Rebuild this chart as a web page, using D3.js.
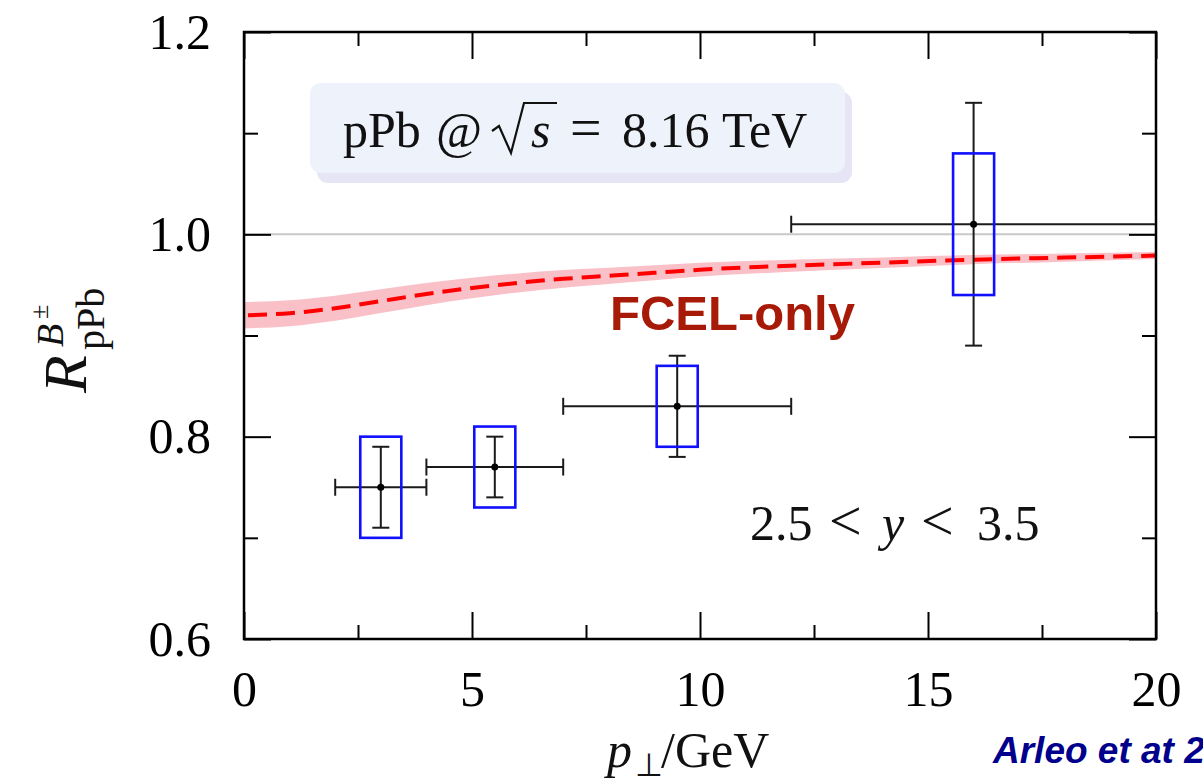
<!DOCTYPE html>
<html>
<head>
<meta charset="utf-8">
<script src="https://cdn.jsdelivr.net/npm/d3@7"></script>
<style>
  body { margin: 0; background: #fff; }
  svg { display: block; }
</style>
</head>
<body>
<svg id="chart" width="1203" height="783"></svg>
<script>
// LHCb B± nuclear modification factor, pPb at 8.16 TeV, 2.5 < y < 3.5
const ptBins   = [[2, 4], [4, 7], [7, 12], [12, 20]];
const ptCenter = [3, 5.5, 9.5, 16];
const rValue   = [0.75, 0.77, 0.83, 1.01];
const statLow  = [0.71, 0.74, 0.78, 0.89];
const statHigh = [0.79, 0.80, 0.88, 1.13];
const systLow  = [0.70, 0.73, 0.79, 0.94];
const systHigh = [0.80, 0.81, 0.87, 1.08];
const systHalfWidth = 0.45; // GeV, half-width of systematic boxes

// FCEL-only prediction: central value and uncertainty band
const curvePt   = [0, 1, 2, 3, 4, 5, 6, 7, 8, 9, 10, 12, 14, 16, 18, 20];
const curveMid  = [0.920, 0.922, 0.927, 0.934, 0.941, 0.947, 0.952, 0.956, 0.959, 0.962, 0.965, 0.969, 0.972, 0.975, 0.977, 0.979];
const curveHalf = [0.013, 0.0128, 0.0124, 0.0118, 0.011, 0.0102, 0.0094, 0.0087, 0.008, 0.0074, 0.0068, 0.006, 0.0052, 0.0045, 0.004, 0.0035];

const xMajorTicks = [0, 5, 10, 15, 20];
const xMinorTicks = [2.5, 7.5, 12.5, 17.5];
const yMajorTicks = [0.6, 0.8, 1.0, 1.2];
const yMinorTicks = [0.7, 0.9, 1.1];
const yTickLabels = ["0.6", "0.8", "1.0", "1.2"];

const serif = "'Liberation Serif', 'Times New Roman', serif";
const sans = "'Liberation Sans', Arial, sans-serif";

const svg = d3.select("#chart");
const x = d3.scaleLinear().domain([0, 20]).range([244, 1156]);
const y = d3.scaleLinear().domain([0.6, 1.2]).range([639, 32]);

const [x0, x1] = x.range();
const [yB, yT] = y.range();

// uncertainty band
const band = curvePt.map((p, i) => ({ p, lo: curveMid[i] - curveHalf[i], hi: curveMid[i] + curveHalf[i], mid: curveMid[i] }));
svg.append("path")
  .datum(band)
  .attr("fill", "#f9c0c7")
  .attr("d", d3.area().curve(d3.curveMonotoneX)
    .x(d => x(d.p)).y0(d => y(d.lo)).y1(d => y(d.hi)));

// reference line at unity
svg.append("line")
  .attr("x1", x(0)).attr("x2", x(20))
  .attr("y1", y(1)).attr("y2", y(1))
  .attr("stroke", "#c8c8c8").attr("stroke-width", 2);

// central prediction
svg.append("path")
  .datum(band)
  .attr("fill", "none")
  .attr("stroke", "#ff0000")
  .attr("stroke-width", 4)
  .attr("stroke-dasharray", "19,9")
  .attr("stroke-dashoffset", -4)
  .attr("d", d3.line().curve(d3.curveMonotoneX).x(d => x(d.p)).y(d => y(d.mid)));

// data points
const pts = ptCenter.map((c, i) => ({
  c, v: rValue[i], xl: ptBins[i][0], xh: ptBins[i][1],
  sl: statLow[i], sh: statHigh[i], yl: systLow[i], yh: systHigh[i]
}));

const g = svg.append("g").attr("stroke", "#1a1a1a").attr("stroke-width", 2);
const cap = 8.5;
pts.forEach(d => {
  // horizontal bin width
  g.append("line").attr("x1", x(d.xl)).attr("x2", x(d.xh)).attr("y1", y(d.v)).attr("y2", y(d.v));
  g.append("line").attr("x1", x(d.xl)).attr("x2", x(d.xl)).attr("y1", y(d.v) - cap).attr("y2", y(d.v) + cap);
  if (d.xh < 20) g.append("line").attr("x1", x(d.xh)).attr("x2", x(d.xh)).attr("y1", y(d.v) - cap).attr("y2", y(d.v) + cap);
  // statistical error
  g.append("line").attr("x1", x(d.c)).attr("x2", x(d.c)).attr("y1", y(d.sl)).attr("y2", y(d.sh));
  g.append("line").attr("x1", x(d.c) - cap).attr("x2", x(d.c) + cap).attr("y1", y(d.sl)).attr("y2", y(d.sl));
  g.append("line").attr("x1", x(d.c) - cap).attr("x2", x(d.c) + cap).attr("y1", y(d.sh)).attr("y2", y(d.sh));
});

// systematic boxes
svg.append("g").selectAll("rect").data(pts).join("rect")
  .attr("x", d => x(d.c - systHalfWidth))
  .attr("width", d => x(d.c + systHalfWidth) - x(d.c - systHalfWidth))
  .attr("y", d => y(d.yh))
  .attr("height", d => y(d.yl) - y(d.yh))
  .attr("fill", "none")
  .attr("stroke", "#1010ff")
  .attr("stroke-width", 2.6);

svg.append("g").selectAll("circle").data(pts).join("circle")
  .attr("cx", d => x(d.c)).attr("cy", d => y(d.v)).attr("r", 3.5)
  .attr("fill", "#000");

// axes with inward ticks
const MAJ = 27, MIN = 14;
function axisGroup(axis, tx, ty) {
  const a = svg.append("g").attr("transform", `translate(${tx},${ty})`).call(axis);
  a.select(".domain").remove();
  a.selectAll(".tick line").attr("stroke", "#000").attr("stroke-width", 2);
  return a;
}
const xb = axisGroup(d3.axisBottom(x).tickValues(xMajorTicks).tickSize(-MAJ).tickPadding(31).tickFormat(d3.format("d")), 0, yB);
axisGroup(d3.axisBottom(x).tickValues(xMinorTicks).tickSize(-MIN).tickFormat(""), 0, yB);
axisGroup(d3.axisTop(x).tickValues(xMajorTicks).tickSize(-MAJ).tickFormat(""), 0, yT);
axisGroup(d3.axisTop(x).tickValues(xMinorTicks).tickSize(-MIN).tickFormat(""), 0, yT);
const yl = axisGroup(d3.axisLeft(y).tickValues(yMajorTicks).tickSize(-MAJ).tickPadding(33)
  .tickFormat((d, i) => yTickLabels[i]), x0, 0);
axisGroup(d3.axisLeft(y).tickValues(yMinorTicks).tickSize(-MIN).tickFormat(""), x0, 0);
axisGroup(d3.axisRight(y).tickValues(yMajorTicks).tickSize(-MAJ).tickFormat(""), x1, 0);
axisGroup(d3.axisRight(y).tickValues(yMinorTicks).tickSize(-MIN).tickFormat(""), x1, 0);

[xb, yl].forEach(a => a.selectAll("text")
  .attr("font-family", serif).attr("font-size", 50).attr("fill", "#000"));

// frame
svg.append("rect")
  .attr("x", x0).attr("y", yT).attr("width", x1 - x0).attr("height", yB - yT)
  .attr("fill", "none").attr("stroke", "#000").attr("stroke-width", 2.5);

// collision system label box
svg.append("rect").attr("x", 317).attr("y", 92).attr("width", 535).attr("height", 91)
  .attr("rx", 11).attr("fill", "#e5e5f5");
svg.append("rect").attr("x", 310).attr("y", 83).attr("width", 535).attr("height", 90)
  .attr("rx", 11).attr("fill", "#eef3fb");

const sys = svg.append("text").attr("font-family", serif).attr("font-size", 50).attr("fill", "#111").attr("y", 147);
sys.append("tspan").attr("x", 343).text("pPb");
sys.append("tspan").attr("x", 436).text("@");
sys.append("tspan").attr("x", 531).attr("font-style", "italic").text("s");
sys.append("tspan").attr("x", 570).attr("font-size", 56).text("=");
sys.append("tspan").attr("x", 622).text("8.16");
sys.append("tspan").attr("x", 722).text("TeV");
// radical sign over s
svg.append("path")
  .attr("d", "M492,131 L499,126 L511,153 L524,103 L557,103")
  .attr("fill", "none").attr("stroke", "#111").attr("stroke-width", 2.2)
  .attr("stroke-linejoin", "miter");

// rapidity range
const rap = svg.append("text").attr("font-family", serif).attr("font-size", 50).attr("fill", "#111").attr("y", 540);
rap.append("tspan").attr("x", 750).text("2.5");
rap.append("tspan").attr("x", 829).attr("font-size", 58).text("<");
rap.append("tspan").attr("x", 882).attr("font-style", "italic").text("y");
rap.append("tspan").attr("x", 921).attr("font-size", 58).text("<");
rap.append("tspan").attr("x", 977).text("3.5");

// model label
svg.append("text").attr("x", 610).attr("y", 330)
  .attr("font-family", sans).attr("font-weight", "bold").attr("font-size", 49)
  .attr("fill", "#a81a08").text("FCEL-only");

// x-axis title
const xt = svg.append("text").attr("font-family", serif).attr("font-size", 50).attr("fill", "#111").attr("y", 767);
xt.append("tspan").attr("x", 607).attr("font-style", "italic").text("p");
xt.append("tspan").attr("x", 635).attr("dy", 9).attr("font-size", 32).text("⊥");
xt.append("tspan").attr("x", 661).attr("dy", -9).text("/GeV");

// y-axis title (rotated)
const yt = svg.append("g").attr("transform", "translate(86,393) rotate(-90)")
  .append("text").attr("font-family", serif).attr("fill", "#111");
yt.append("tspan").attr("x", 0).attr("y", 0).attr("font-size", 62).attr("font-style", "italic").text("R");
yt.append("tspan").attr("x", 43).attr("y", 18).attr("font-size", 40).text("pPb");
yt.append("tspan").attr("x", 46).attr("y", -23).attr("font-size", 38).attr("font-style", "italic").text("B");
yt.append("tspan").attr("x", 74).attr("y", -38).attr("font-size", 26).text("±");

// reference
svg.append("text").attr("x", 993).attr("y", 763)
  .attr("font-family", sans).attr("font-weight", "bold").attr("font-style", "italic")
  .attr("font-size", 37).attr("fill", "#00008c").text("Arleo et at 2021");
</script>
</body>
</html>
